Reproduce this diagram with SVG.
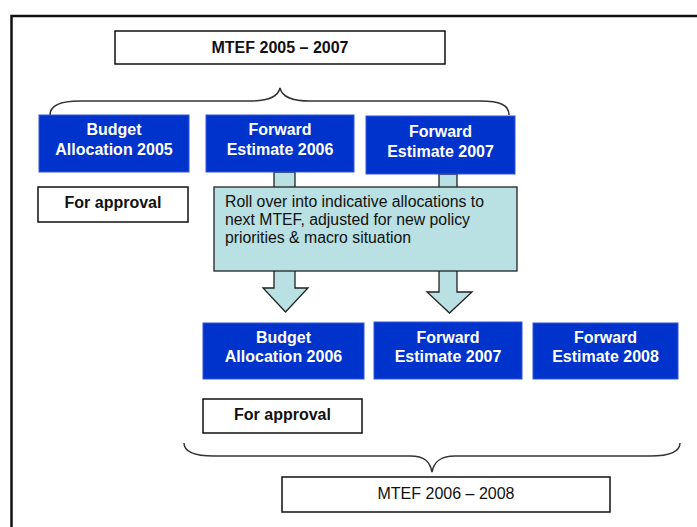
<svg xmlns="http://www.w3.org/2000/svg" width="697" height="527" viewBox="0 0 697 527">
<style>
.blue{fill:#0033cc;stroke:#3355dd;stroke-width:1}
.wbox{fill:#fff;stroke:#111;stroke-width:1.5}
.bt{font-family:"Liberation Sans",Arial,sans-serif;font-size:16px;font-weight:bold;fill:#fff;text-anchor:middle}
.kt{font-family:"Liberation Sans",Arial,sans-serif;font-size:16px;font-weight:bold;fill:#111;text-anchor:middle}
.nt{font-family:"Liberation Sans",Arial,sans-serif;font-size:16px;fill:#111;text-anchor:middle}
.rt{font-family:"Liberation Sans",Arial,sans-serif;font-size:15.8px;fill:#111}
.arrow{fill:#b9e0e2;stroke:#222;stroke-width:1.3}
.brace{fill:none;stroke:#333;stroke-width:1.5}
</style>
<rect width="697" height="527" fill="#fff"/>
<rect x="11.5" y="16" width="700" height="530" fill="none" stroke="#111" stroke-width="2.5"/>

<g id="connectors">
<polygon class="arrow" points="274,172 295,172 295,288 308,288 285.5,312 263,288 274,288"/>
<polygon class="arrow" points="439,174 457,174 457,292 472,292 449.5,313 427,292 439,292"/>
<path class="brace" d="M50,115 C50,105 60,101 80,101 L250,101 C268,101 278,97 280,88 C282,97 292,101 310,101 L480,101 C500,101 509,105 509,115"/>
<path class="brace" d="M184,443 C184,452 194,456 214,456 L410,456 C425,456 430,462 432,472 C434,462 440,456 455,456 L650,456 C670,456 680,452 680,443"/>
</g>

<g id="mtef1">
<rect class="wbox" x="115" y="31" width="330" height="33"/>
<text class="kt" x="280" y="53">MTEF 2005 – 2007</text>
</g>

<g id="ba2005">
<rect class="blue" x="39" y="115" width="150" height="57"/>
<text class="bt" x="114" y="135">Budget</text>
<text class="bt" x="114" y="155">Allocation 2005</text>
</g>
<g id="fe2006">
<rect class="blue" x="206" y="115" width="148" height="57"/>
<text class="bt" x="280" y="135">Forward</text>
<text class="bt" x="280" y="155">Estimate 2006</text>
</g>
<g id="fe2007a">
<rect class="blue" x="366" y="116" width="149" height="58"/>
<text class="bt" x="440.5" y="137">Forward</text>
<text class="bt" x="440.5" y="157">Estimate 2007</text>
</g>

<g id="approval1">
<rect class="wbox" x="38" y="187" width="150" height="35"/>
<text class="kt" x="113" y="208">For approval</text>
</g>

<g id="rollover">
<rect x="214" y="187" width="303" height="84" fill="#b9e0e2" stroke="#222" stroke-width="1.3"/>
<text class="rt" x="225" y="207">Roll over into indicative allocations to</text>
<text class="rt" x="225" y="225">next MTEF, adjusted for new policy</text>
<text class="rt" x="225" y="243">priorities &amp; macro situation</text>
</g>

<g id="ba2006">
<rect class="blue" x="203" y="323" width="161" height="56"/>
<text class="bt" x="283.5" y="343">Budget</text>
<text class="bt" x="283.5" y="362">Allocation 2006</text>
</g>
<g id="fe2007b">
<rect class="blue" x="374" y="322" width="148" height="57"/>
<text class="bt" x="448" y="343">Forward</text>
<text class="bt" x="448" y="362">Estimate 2007</text>
</g>
<g id="fe2008">
<rect class="blue" x="533" y="323" width="145" height="56"/>
<text class="bt" x="605.5" y="343">Forward</text>
<text class="bt" x="605.5" y="362">Estimate 2008</text>
</g>

<g id="approval2">
<rect class="wbox" x="203" y="399" width="159" height="34"/>
<text class="kt" x="282.5" y="420">For approval</text>
</g>

<g id="mtef2">
<rect class="wbox" x="282" y="477" width="328" height="35"/>
<text class="nt" x="446" y="499">MTEF 2006 – 2008</text>
</g>
</svg>
